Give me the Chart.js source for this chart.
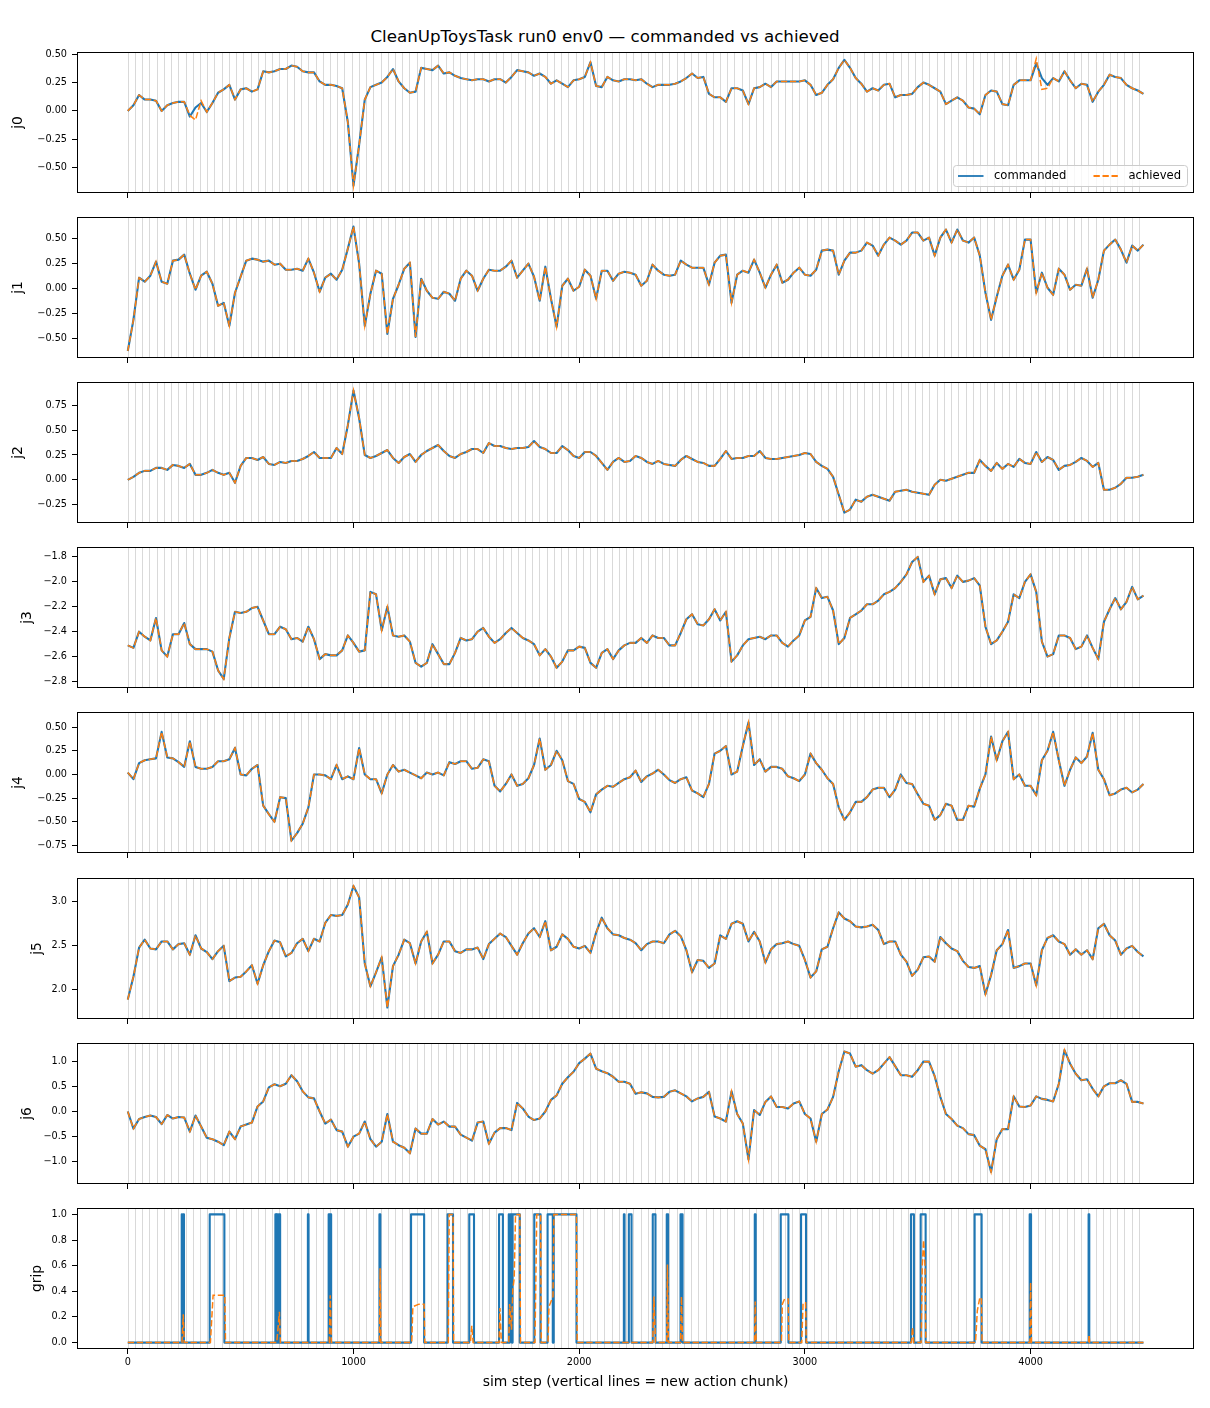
<!DOCTYPE html>
<html><head><meta charset="utf-8">
<script src="https://cdn.jsdelivr.net/npm/chart.js@4.4.0/dist/chart.umd.min.js"></script>
<style>
html,body{margin:0;padding:0;background:#fff;}
#fig{position:relative;width:1210px;height:1408px;background:#fff;font-family:"DejaVu Sans",sans-serif;overflow:hidden;}
#title{position:absolute;left:0;top:26px;width:1210px;text-align:center;font-size:16.7px;line-height:20px;color:#000;}
</style></head>
<body><div id="fig"><div id="title">CleanUpToysTask run0 env0 — commanded vs achieved</div></div>
<script>
// ---------------- data ----------------
const STEPS = [0,25,50,75,100,125,150,175,200,225,
250,275,300,325,350,375,400,425,450,475,
500,525,550,575,600,625,650,675,700,725,
750,775,800,825,850,875,900,925,950,975,
1000,1025,1050,1075,1100,1125,1150,1175,1200,1225,
1250,1275,1300,1325,1350,1375,1400,1425,1450,1475,
1500,1525,1550,1575,1600,1625,1650,1675,1700,1725,
1750,1775,1800,1825,1850,1875,1900,1925,1950,1975,
2000,2025,2050,2075,2100,2125,2150,2175,2200,2225,
2250,2275,2300,2325,2350,2375,2400,2425,2450,2475,
2500,2525,2550,2575,2600,2625,2650,2675,2700,2725,
2750,2775,2800,2825,2850,2875,2900,2925,2950,2975,
3000,3025,3050,3075,3100,3125,3150,3175,3200,3225,
3250,3275,3300,3325,3350,3375,3400,3425,3450,3475,
3500,3525,3550,3575,3600,3625,3650,3675,3700,3725,
3750,3775,3800,3825,3850,3875,3900,3925,3950,3975,
4000,4025,4050,4075,4100,4125,4150,4175,4200,4225,
4250,4275,4300,4325,4350,4375,4400,4425,4450,4475,
4500];

const J0_CMD = [0.00,0.05,0.14,0.10,0.10,0.09,0.00,0.05,0.07,0.08,
0.08,-0.05,0.03,0.07,-0.01,0.07,0.16,0.19,0.23,0.10,
0.19,0.20,0.17,0.19,0.35,0.34,0.35,0.37,0.37,0.40,
0.39,0.35,0.34,0.34,0.26,0.23,0.23,0.22,0.20,-0.10,
-0.66,-0.30,0.10,0.21,0.23,0.25,0.30,0.37,0.26,0.20,
0.16,0.17,0.38,0.37,0.36,0.40,0.33,0.34,0.31,0.29,
0.28,0.27,0.28,0.28,0.26,0.28,0.28,0.25,0.30,0.36,
0.35,0.34,0.31,0.33,0.30,0.24,0.27,0.24,0.21,0.27,
0.28,0.30,0.43,0.22,0.21,0.30,0.27,0.26,0.28,0.28,
0.27,0.28,0.24,0.21,0.23,0.23,0.23,0.24,0.26,0.29,
0.33,0.29,0.30,0.15,0.12,0.12,0.08,0.20,0.20,0.18,
0.06,0.20,0.21,0.24,0.21,0.26,0.26,0.26,0.26,0.26,
0.27,0.23,0.14,0.16,0.23,0.28,0.38,0.45,0.38,0.29,
0.24,0.17,0.20,0.18,0.23,0.24,0.12,0.14,0.14,0.15,
0.21,0.25,0.23,0.20,0.17,0.06,0.09,0.12,0.09,0.03,
0.02,-0.03,0.14,0.18,0.17,0.06,0.05,0.23,0.27,0.27,
0.27,0.42,0.29,0.23,0.29,0.26,0.35,0.27,0.20,0.24,
0.23,0.08,0.17,0.23,0.32,0.30,0.29,0.23,0.20,0.18,
0.15];
const J0_ACH = [0.00,0.05,0.14,0.10,0.10,0.09,0.00,0.05,0.07,0.08,
0.08,-0.04,-0.08,0.09,-0.01,0.07,0.16,0.19,0.23,0.10,
0.19,0.20,0.17,0.19,0.35,0.34,0.35,0.37,0.37,0.40,
0.39,0.35,0.34,0.34,0.26,0.23,0.23,0.22,0.20,-0.10,
-0.66,-0.30,0.10,0.21,0.23,0.25,0.30,0.37,0.26,0.20,
0.16,0.17,0.38,0.37,0.36,0.40,0.33,0.34,0.31,0.29,
0.28,0.27,0.28,0.28,0.26,0.28,0.28,0.25,0.30,0.36,
0.35,0.34,0.31,0.33,0.30,0.24,0.27,0.24,0.21,0.27,
0.28,0.30,0.43,0.22,0.21,0.30,0.27,0.26,0.28,0.28,
0.27,0.28,0.24,0.21,0.23,0.23,0.23,0.24,0.26,0.29,
0.33,0.29,0.30,0.15,0.12,0.12,0.08,0.20,0.20,0.18,
0.06,0.20,0.21,0.24,0.21,0.26,0.26,0.26,0.26,0.26,
0.27,0.23,0.14,0.16,0.23,0.28,0.38,0.45,0.38,0.29,
0.24,0.17,0.20,0.18,0.23,0.24,0.12,0.14,0.14,0.15,
0.21,0.25,0.23,0.20,0.17,0.06,0.09,0.12,0.09,0.03,
0.02,-0.03,0.14,0.18,0.17,0.06,0.05,0.23,0.27,0.27,
0.27,0.46,0.19,0.20,0.29,0.26,0.35,0.27,0.20,0.24,
0.23,0.08,0.17,0.23,0.32,0.30,0.29,0.23,0.20,0.18,
0.15];

const J1_CMD = [-0.62,-0.31,0.11,0.07,0.13,0.27,0.07,0.05,0.28,0.29,
0.34,0.15,-0.01,0.13,0.17,0.05,-0.17,-0.14,-0.37,-0.04,
0.12,0.28,0.30,0.29,0.27,0.28,0.24,0.25,0.19,0.19,
0.20,0.18,0.30,0.16,-0.03,0.11,0.15,0.09,0.19,0.40,
0.62,0.25,-0.37,-0.05,0.18,0.15,-0.45,-0.10,0.04,0.20,
0.26,-0.48,0.10,-0.02,-0.09,-0.10,-0.03,-0.05,-0.12,0.10,
0.18,0.13,-0.02,0.10,0.19,0.18,0.18,0.22,0.28,0.11,
0.18,0.25,0.12,-0.12,0.22,-0.10,-0.38,0.03,0.10,-0.02,
0.02,0.19,0.13,-0.10,0.18,0.18,0.08,0.15,0.17,0.16,
0.14,0.03,0.08,0.24,0.18,0.14,0.13,0.14,0.28,0.24,
0.21,0.21,0.21,0.04,0.26,0.33,0.34,-0.14,0.14,0.18,
0.16,0.29,0.16,0.01,0.14,0.24,0.06,0.09,0.16,0.21,
0.14,0.13,0.19,0.38,0.39,0.38,0.14,0.28,0.36,0.36,
0.38,0.46,0.43,0.33,0.44,0.51,0.48,0.44,0.48,0.56,
0.56,0.48,0.51,0.33,0.51,0.59,0.46,0.59,0.48,0.46,
0.51,0.33,-0.04,-0.31,-0.08,0.13,0.24,0.09,0.19,0.49,
0.49,-0.04,0.16,0.01,-0.06,0.20,0.14,-0.01,0.04,0.03,
0.20,-0.09,0.09,0.38,0.44,0.49,0.39,0.26,0.43,0.38,
0.44];
const J1_ACH = [-0.62,-0.31,0.11,0.07,0.13,0.27,0.07,0.05,0.28,0.29,
0.34,0.15,-0.01,0.13,0.17,0.05,-0.17,-0.14,-0.37,-0.04,
0.12,0.28,0.30,0.29,0.27,0.28,0.24,0.25,0.19,0.19,
0.20,0.18,0.30,0.16,-0.03,0.11,0.15,0.09,0.19,0.40,
0.62,0.25,-0.37,-0.05,0.18,0.15,-0.45,-0.10,0.04,0.20,
0.26,-0.48,0.10,-0.02,-0.09,-0.10,-0.03,-0.05,-0.12,0.10,
0.18,0.13,-0.02,0.10,0.19,0.18,0.18,0.22,0.28,0.11,
0.18,0.25,0.12,-0.12,0.22,-0.10,-0.38,0.03,0.10,-0.02,
0.02,0.19,0.13,-0.10,0.18,0.18,0.08,0.15,0.17,0.16,
0.14,0.03,0.08,0.24,0.18,0.14,0.13,0.14,0.28,0.24,
0.21,0.21,0.21,0.04,0.26,0.33,0.34,-0.14,0.14,0.18,
0.16,0.29,0.16,0.01,0.14,0.24,0.06,0.09,0.16,0.21,
0.14,0.13,0.19,0.38,0.39,0.38,0.14,0.28,0.36,0.36,
0.38,0.46,0.43,0.33,0.44,0.51,0.48,0.44,0.48,0.56,
0.56,0.48,0.51,0.33,0.51,0.59,0.46,0.59,0.48,0.46,
0.51,0.33,-0.04,-0.31,-0.08,0.13,0.24,0.09,0.19,0.49,
0.49,-0.04,0.16,0.01,-0.06,0.20,0.14,-0.01,0.04,0.03,
0.20,-0.09,0.09,0.38,0.44,0.49,0.39,0.26,0.43,0.38,
0.44];

const J2_CMD = [0.00,0.03,0.07,0.09,0.09,0.12,0.12,0.10,0.15,0.14,
0.12,0.16,0.05,0.05,0.07,0.10,0.07,0.05,0.07,-0.03,
0.14,0.22,0.22,0.20,0.23,0.16,0.15,0.18,0.17,0.19,
0.19,0.21,0.24,0.28,0.22,0.22,0.22,0.32,0.26,0.55,
0.90,0.62,0.25,0.22,0.24,0.27,0.30,0.22,0.17,0.23,
0.26,0.18,0.25,0.29,0.32,0.35,0.29,0.24,0.22,0.26,
0.28,0.31,0.31,0.27,0.37,0.34,0.34,0.32,0.31,0.32,
0.32,0.33,0.39,0.33,0.31,0.27,0.27,0.34,0.30,0.24,
0.22,0.28,0.28,0.24,0.17,0.10,0.18,0.22,0.18,0.19,
0.24,0.22,0.18,0.16,0.19,0.16,0.15,0.14,0.20,0.24,
0.21,0.18,0.17,0.14,0.14,0.21,0.29,0.21,0.22,0.22,
0.24,0.24,0.29,0.22,0.21,0.21,0.22,0.23,0.24,0.25,
0.27,0.26,0.18,0.14,0.11,0.03,-0.15,-0.33,-0.30,-0.20,
-0.22,-0.17,-0.15,-0.17,-0.19,-0.21,-0.12,-0.11,-0.10,-0.12,
-0.13,-0.14,-0.15,-0.05,0.00,-0.01,0.01,0.03,0.05,0.07,
0.07,0.20,0.14,0.09,0.17,0.11,0.16,0.13,0.21,0.17,
0.16,0.28,0.18,0.23,0.20,0.10,0.14,0.15,0.18,0.22,
0.19,0.13,0.17,-0.10,-0.10,-0.08,-0.04,0.02,0.02,0.03,
0.05];
const J2_ACH = [0.00,0.03,0.07,0.09,0.09,0.12,0.12,0.10,0.15,0.14,
0.12,0.16,0.05,0.05,0.07,0.10,0.07,0.05,0.07,-0.03,
0.14,0.22,0.22,0.20,0.23,0.16,0.15,0.18,0.17,0.19,
0.19,0.21,0.24,0.28,0.22,0.22,0.22,0.32,0.26,0.55,
0.90,0.62,0.25,0.22,0.24,0.27,0.30,0.22,0.17,0.23,
0.26,0.18,0.25,0.29,0.32,0.35,0.29,0.24,0.22,0.26,
0.28,0.31,0.31,0.27,0.37,0.34,0.34,0.32,0.31,0.32,
0.32,0.33,0.39,0.33,0.31,0.27,0.27,0.34,0.30,0.24,
0.22,0.28,0.28,0.24,0.17,0.10,0.18,0.22,0.18,0.19,
0.24,0.22,0.18,0.16,0.19,0.16,0.15,0.14,0.20,0.24,
0.21,0.18,0.17,0.14,0.14,0.21,0.29,0.21,0.22,0.22,
0.24,0.24,0.29,0.22,0.21,0.21,0.22,0.23,0.24,0.25,
0.27,0.26,0.18,0.14,0.11,0.03,-0.15,-0.33,-0.30,-0.20,
-0.22,-0.17,-0.15,-0.17,-0.19,-0.21,-0.12,-0.11,-0.10,-0.12,
-0.13,-0.14,-0.15,-0.05,0.00,-0.01,0.01,0.03,0.05,0.07,
0.07,0.20,0.14,0.09,0.17,0.11,0.16,0.13,0.21,0.17,
0.16,0.28,0.18,0.23,0.20,0.10,0.14,0.15,0.18,0.22,
0.19,0.13,0.17,-0.10,-0.10,-0.08,-0.04,0.02,0.02,0.03,
0.05];

const J3_CMD = [-2.51,-2.53,-2.40,-2.44,-2.47,-2.29,-2.55,-2.60,-2.42,-2.42,
-2.33,-2.50,-2.54,-2.54,-2.54,-2.56,-2.71,-2.78,-2.45,-2.24,
-2.25,-2.24,-2.21,-2.20,-2.31,-2.42,-2.42,-2.36,-2.38,-2.46,
-2.45,-2.48,-2.36,-2.46,-2.62,-2.58,-2.59,-2.59,-2.55,-2.43,
-2.49,-2.56,-2.55,-2.08,-2.10,-2.39,-2.20,-2.43,-2.44,-2.43,
-2.48,-2.65,-2.68,-2.65,-2.50,-2.58,-2.66,-2.66,-2.57,-2.45,
-2.47,-2.46,-2.40,-2.37,-2.44,-2.49,-2.46,-2.41,-2.37,-2.41,
-2.45,-2.47,-2.50,-2.59,-2.54,-2.60,-2.69,-2.64,-2.55,-2.55,
-2.52,-2.53,-2.65,-2.69,-2.57,-2.54,-2.62,-2.55,-2.51,-2.49,
-2.49,-2.45,-2.49,-2.43,-2.45,-2.45,-2.51,-2.51,-2.41,-2.30,
-2.26,-2.34,-2.35,-2.30,-2.22,-2.31,-2.24,-2.64,-2.59,-2.51,
-2.46,-2.45,-2.44,-2.46,-2.43,-2.43,-2.49,-2.52,-2.47,-2.43,
-2.31,-2.28,-2.05,-2.13,-2.12,-2.23,-2.50,-2.45,-2.29,-2.26,
-2.23,-2.18,-2.18,-2.15,-2.10,-2.08,-2.05,-2.00,-1.94,-1.84,
-1.80,-2.00,-1.95,-2.10,-1.98,-1.97,-2.05,-1.95,-2.00,-1.99,
-1.97,-2.03,-2.36,-2.50,-2.47,-2.40,-2.32,-2.10,-2.13,-2.00,
-1.94,-2.08,-2.48,-2.60,-2.58,-2.43,-2.43,-2.45,-2.54,-2.52,
-2.43,-2.53,-2.62,-2.32,-2.22,-2.13,-2.22,-2.16,-2.04,-2.14,
-2.11];
const J3_ACH = [-2.51,-2.53,-2.40,-2.44,-2.47,-2.29,-2.55,-2.60,-2.42,-2.42,
-2.33,-2.50,-2.54,-2.54,-2.54,-2.56,-2.71,-2.78,-2.45,-2.24,
-2.25,-2.24,-2.21,-2.20,-2.31,-2.42,-2.42,-2.36,-2.38,-2.46,
-2.45,-2.48,-2.36,-2.46,-2.62,-2.58,-2.59,-2.59,-2.55,-2.43,
-2.49,-2.56,-2.55,-2.08,-2.10,-2.39,-2.20,-2.43,-2.44,-2.43,
-2.48,-2.65,-2.68,-2.65,-2.50,-2.58,-2.66,-2.66,-2.57,-2.45,
-2.47,-2.46,-2.40,-2.37,-2.44,-2.49,-2.46,-2.41,-2.37,-2.41,
-2.45,-2.47,-2.50,-2.59,-2.54,-2.60,-2.69,-2.64,-2.55,-2.55,
-2.52,-2.53,-2.65,-2.69,-2.57,-2.54,-2.62,-2.55,-2.51,-2.49,
-2.49,-2.45,-2.49,-2.43,-2.45,-2.45,-2.51,-2.51,-2.41,-2.30,
-2.26,-2.34,-2.35,-2.30,-2.22,-2.31,-2.24,-2.64,-2.59,-2.51,
-2.46,-2.45,-2.44,-2.46,-2.43,-2.43,-2.49,-2.52,-2.47,-2.43,
-2.31,-2.28,-2.05,-2.13,-2.12,-2.23,-2.50,-2.45,-2.29,-2.26,
-2.23,-2.18,-2.18,-2.15,-2.10,-2.08,-2.05,-2.00,-1.94,-1.84,
-1.80,-2.00,-1.95,-2.10,-1.98,-1.97,-2.05,-1.95,-2.00,-1.99,
-1.97,-2.03,-2.36,-2.50,-2.47,-2.40,-2.32,-2.10,-2.13,-2.00,
-1.94,-2.08,-2.48,-2.60,-2.58,-2.43,-2.43,-2.45,-2.54,-2.52,
-2.43,-2.53,-2.62,-2.32,-2.22,-2.13,-2.22,-2.16,-2.04,-2.14,
-2.11];

const J4_CMD = [0.02,-0.05,0.12,0.15,0.16,0.17,0.45,0.18,0.17,0.13,
0.08,0.35,0.08,0.06,0.06,0.08,0.14,0.14,0.16,0.28,
0.00,-0.01,0.06,0.10,-0.33,-0.42,-0.50,-0.24,-0.25,-0.70,
-0.62,-0.52,-0.35,0.00,0.00,-0.01,-0.05,0.10,-0.05,-0.02,
-0.05,0.28,0.00,-0.05,-0.05,-0.20,0.00,0.10,0.03,0.05,
0.02,-0.01,-0.04,0.02,0.00,0.02,-0.01,0.13,0.11,0.14,
0.14,0.06,0.07,0.16,0.14,-0.12,-0.18,-0.10,0.00,-0.12,
-0.10,-0.04,0.10,0.38,0.05,0.10,0.25,0.15,-0.07,-0.10,
-0.26,-0.29,-0.40,-0.21,-0.16,-0.12,-0.13,-0.09,-0.05,-0.03,
0.04,-0.08,-0.02,0.01,0.05,0.00,-0.06,-0.09,-0.05,-0.03,
-0.17,-0.20,-0.24,-0.10,0.22,0.25,0.30,0.00,0.03,0.30,
0.55,0.10,0.16,0.03,0.08,0.08,0.06,-0.02,-0.04,-0.07,
0.00,0.22,0.12,0.05,-0.04,-0.10,-0.35,-0.48,-0.40,-0.29,
-0.29,-0.24,-0.16,-0.14,-0.14,-0.24,-0.16,0.00,-0.09,-0.10,
-0.21,-0.31,-0.33,-0.48,-0.43,-0.31,-0.33,-0.48,-0.48,-0.33,
-0.34,-0.15,0.00,0.40,0.15,0.35,0.45,-0.05,0.00,-0.12,
-0.12,-0.22,0.15,0.25,0.45,0.15,-0.12,0.05,0.18,0.12,
0.19,0.44,0.05,-0.05,-0.22,-0.20,-0.16,-0.14,-0.19,-0.16,
-0.10];
const J4_ACH = [0.02,-0.05,0.12,0.15,0.16,0.17,0.45,0.18,0.17,0.13,
0.08,0.35,0.08,0.06,0.06,0.08,0.14,0.14,0.16,0.28,
0.00,-0.01,0.06,0.10,-0.33,-0.42,-0.50,-0.24,-0.25,-0.70,
-0.62,-0.52,-0.35,0.00,0.00,-0.01,-0.05,0.10,-0.05,-0.02,
-0.05,0.28,0.00,-0.05,-0.05,-0.20,0.00,0.10,0.03,0.05,
0.02,-0.01,-0.04,0.02,0.00,0.02,-0.01,0.13,0.11,0.14,
0.14,0.06,0.07,0.16,0.14,-0.12,-0.18,-0.10,0.00,-0.12,
-0.10,-0.04,0.10,0.38,0.05,0.10,0.25,0.15,-0.07,-0.10,
-0.26,-0.29,-0.40,-0.21,-0.16,-0.12,-0.13,-0.09,-0.05,-0.03,
0.04,-0.08,-0.02,0.01,0.05,0.00,-0.06,-0.09,-0.05,-0.03,
-0.17,-0.20,-0.24,-0.10,0.22,0.25,0.30,0.00,0.03,0.30,
0.55,0.10,0.16,0.03,0.08,0.08,0.06,-0.02,-0.04,-0.07,
0.00,0.22,0.12,0.05,-0.04,-0.10,-0.35,-0.48,-0.40,-0.29,
-0.29,-0.24,-0.16,-0.14,-0.14,-0.24,-0.16,0.00,-0.09,-0.10,
-0.21,-0.31,-0.33,-0.48,-0.43,-0.31,-0.33,-0.48,-0.48,-0.33,
-0.34,-0.15,0.00,0.40,0.15,0.35,0.45,-0.05,0.00,-0.12,
-0.12,-0.22,0.15,0.25,0.45,0.15,-0.12,0.05,0.18,0.12,
0.19,0.44,0.05,-0.05,-0.22,-0.20,-0.16,-0.14,-0.19,-0.16,
-0.10];

const J5_CMD = [1.89,2.15,2.48,2.57,2.47,2.46,2.55,2.55,2.46,2.52,
2.53,2.40,2.62,2.47,2.43,2.35,2.44,2.50,2.10,2.14,
2.15,2.21,2.28,2.07,2.28,2.44,2.56,2.54,2.38,2.42,
2.53,2.58,2.44,2.58,2.55,2.76,2.85,2.84,2.85,2.97,
3.18,3.05,2.30,2.04,2.20,2.37,1.80,2.27,2.40,2.57,
2.53,2.30,2.55,2.66,2.30,2.40,2.55,2.55,2.44,2.42,
2.46,2.46,2.48,2.35,2.52,2.58,2.64,2.60,2.50,2.40,
2.53,2.64,2.70,2.60,2.78,2.45,2.49,2.63,2.58,2.49,
2.47,2.50,2.42,2.65,2.82,2.70,2.63,2.62,2.59,2.57,
2.53,2.45,2.52,2.55,2.55,2.53,2.63,2.67,2.61,2.45,
2.20,2.34,2.33,2.25,2.30,2.62,2.58,2.75,2.78,2.75,
2.55,2.66,2.55,2.31,2.46,2.52,2.53,2.55,2.52,2.50,
2.34,2.14,2.21,2.46,2.49,2.70,2.88,2.81,2.78,2.72,
2.71,2.72,2.74,2.68,2.52,2.55,2.55,2.40,2.32,2.16,
2.23,2.37,2.38,2.32,2.60,2.53,2.47,2.44,2.33,2.26,
2.25,2.27,1.95,2.17,2.45,2.52,2.68,2.25,2.27,2.30,
2.30,2.05,2.45,2.59,2.62,2.55,2.52,2.40,2.46,2.40,
2.45,2.35,2.70,2.75,2.62,2.56,2.40,2.47,2.50,2.43,
2.38];
const J5_ACH = [1.89,2.15,2.48,2.57,2.47,2.46,2.55,2.55,2.46,2.52,
2.53,2.40,2.62,2.47,2.43,2.35,2.44,2.50,2.10,2.14,
2.15,2.21,2.28,2.07,2.28,2.44,2.56,2.54,2.38,2.42,
2.53,2.58,2.44,2.58,2.55,2.76,2.85,2.84,2.85,2.97,
3.18,3.05,2.30,2.04,2.20,2.37,1.80,2.27,2.40,2.57,
2.53,2.30,2.55,2.66,2.30,2.40,2.55,2.55,2.44,2.42,
2.46,2.46,2.48,2.35,2.52,2.58,2.64,2.60,2.50,2.40,
2.53,2.64,2.70,2.60,2.78,2.45,2.49,2.63,2.58,2.49,
2.47,2.50,2.42,2.65,2.82,2.70,2.63,2.62,2.59,2.57,
2.53,2.45,2.52,2.55,2.55,2.53,2.63,2.67,2.61,2.45,
2.20,2.34,2.33,2.25,2.30,2.62,2.58,2.75,2.78,2.75,
2.55,2.66,2.55,2.31,2.46,2.52,2.53,2.55,2.52,2.50,
2.34,2.14,2.21,2.46,2.49,2.70,2.88,2.81,2.78,2.72,
2.71,2.72,2.74,2.68,2.52,2.55,2.55,2.40,2.32,2.16,
2.23,2.37,2.38,2.32,2.60,2.53,2.47,2.44,2.33,2.26,
2.25,2.27,1.95,2.17,2.45,2.52,2.68,2.25,2.27,2.30,
2.30,2.05,2.45,2.59,2.62,2.55,2.52,2.40,2.46,2.40,
2.45,2.35,2.70,2.75,2.62,2.56,2.40,2.47,2.50,2.43,
2.38];

const J6_CMD = [0.00,-0.34,-0.15,-0.11,-0.08,-0.11,-0.25,-0.07,-0.14,-0.11,
-0.12,-0.40,-0.08,-0.30,-0.52,-0.55,-0.60,-0.67,-0.40,-0.55,
-0.30,-0.26,-0.22,0.10,0.20,0.48,0.54,0.50,0.55,0.72,
0.60,0.40,0.28,0.26,0.00,-0.24,-0.16,-0.37,-0.40,-0.70,
-0.50,-0.44,-0.20,-0.55,-0.70,-0.60,-0.05,-0.60,-0.67,-0.72,
-0.83,-0.34,-0.44,-0.44,-0.15,-0.26,-0.20,-0.30,-0.30,-0.46,
-0.52,-0.58,-0.22,-0.20,-0.64,-0.42,-0.33,-0.33,-0.37,0.17,
0.06,-0.10,-0.17,-0.14,0.00,0.23,0.32,0.55,0.68,0.79,
0.96,1.05,1.15,0.85,0.80,0.76,0.69,0.59,0.59,0.55,
0.35,0.38,0.36,0.29,0.28,0.29,0.39,0.42,0.36,0.30,
0.20,0.26,0.29,0.39,-0.10,-0.14,-0.20,0.40,-0.05,-0.24,
-0.95,0.03,-0.07,0.19,0.30,0.09,0.09,0.06,0.16,0.20,
-0.05,-0.14,-0.60,-0.05,0.04,0.29,0.80,1.19,1.15,0.89,
0.92,0.82,0.75,0.82,0.95,1.08,0.90,0.72,0.72,0.69,
0.82,0.99,0.99,0.70,0.29,-0.05,-0.15,-0.28,-0.33,-0.45,
-0.47,-0.68,-0.75,-1.20,-0.55,-0.35,-0.35,0.30,0.10,0.09,
0.12,0.30,0.25,0.23,0.20,0.55,1.22,0.95,0.75,0.62,
0.64,0.45,0.30,0.50,0.56,0.56,0.62,0.55,0.19,0.19,
0.16];
const J6_ACH = [0.00,-0.34,-0.15,-0.11,-0.08,-0.11,-0.25,-0.07,-0.14,-0.11,
-0.12,-0.40,-0.08,-0.30,-0.52,-0.55,-0.60,-0.67,-0.40,-0.55,
-0.30,-0.26,-0.22,0.10,0.20,0.48,0.54,0.50,0.55,0.72,
0.60,0.40,0.28,0.26,0.00,-0.24,-0.16,-0.37,-0.40,-0.70,
-0.50,-0.44,-0.20,-0.55,-0.70,-0.60,-0.05,-0.60,-0.67,-0.72,
-0.83,-0.34,-0.44,-0.44,-0.15,-0.26,-0.20,-0.30,-0.30,-0.46,
-0.52,-0.58,-0.22,-0.20,-0.64,-0.42,-0.33,-0.33,-0.37,0.17,
0.06,-0.10,-0.17,-0.14,0.00,0.23,0.32,0.55,0.68,0.79,
0.96,1.05,1.15,0.85,0.80,0.76,0.69,0.59,0.59,0.55,
0.35,0.38,0.36,0.29,0.28,0.29,0.39,0.42,0.36,0.30,
0.20,0.26,0.29,0.39,-0.10,-0.14,-0.20,0.40,-0.05,-0.24,
-0.95,0.03,-0.07,0.19,0.30,0.09,0.09,0.06,0.16,0.20,
-0.05,-0.14,-0.60,-0.05,0.04,0.29,0.80,1.19,1.15,0.89,
0.92,0.82,0.75,0.82,0.95,1.08,0.90,0.72,0.72,0.69,
0.82,0.99,0.99,0.70,0.29,-0.05,-0.15,-0.28,-0.33,-0.45,
-0.47,-0.68,-0.75,-1.20,-0.55,-0.35,-0.35,0.30,0.10,0.09,
0.12,0.30,0.25,0.23,0.20,0.55,1.22,0.95,0.75,0.62,
0.64,0.45,0.30,0.50,0.56,0.56,0.62,0.55,0.19,0.19,
0.16];

// gripper: commanded pulses (step where it switches on / off)
const GRIP_ON  = [237,244,363,654,661,669,798,890,897,1115,1255,1417,1513,1645,1686,1693,1705,1801,1860,1887,2198,2220,2326,2388,2449,2778,2893,2983,3470,3513,3752,3996,4257];
const GRIP_OFF = [240,249,428,658,664,675,801,894,901,1119,1313,1441,1534,1662,1689,1702,1737,1829,1883,1988,2201,2232,2338,2394,2458,2782,2927,3005,3483,3535,3783,4002,4260];
const GRIP_END = 4500;
// gripper: achieved
const GRIP_ACH_X = [0,240,246,250,366,378,430,433,660,672,676,893,897,902,1115,1118,1121,
1258,1263,1290,1313,1316,1420,1424,1441,1444,1518,1524,1530,1645,1649,1655,
1688,1692,1700,1706,1712,1718,1737,1740,1804,1808,1812,1829,1832,1862,1866,1884,1888,1988,1991,
2326,2331,2338,2388,2391,2395,2449,2453,2458,2777,2780,2784,2896,2900,2910,2926,2929,
2986,2992,3003,3006,3472,3477,3482,3515,3520,3526,3532,3536,3756,3764,3775,3782,3785,
3997,4000,4004,4257,4259,4262,4500];
const GRIP_ACH_Y = [0,0,0.22,0,0,0.37,0.37,0,0,0.24,0,0,0.37,0,0,0.58,0,
0,0.28,0.30,0.30,0,0,1.0,1.0,0,0,0.13,0,0,0.27,0,
0,0.30,0.10,0.42,0.50,1.0,1.0,0,0,0.50,1.0,1.0,0,0,0.28,0.36,1.0,1.0,0,
0,0.36,0,0,0.61,0,0,0.36,0,0,0.32,0,0,0.30,0.34,0.34,0,
0,0.31,0.31,0,0,0.12,0,0,0.60,0.80,0.60,0,0,0.25,0.35,0.35,0,
0,0.47,0,0,0.06,0,0];

// new action chunk start steps
const CHUNK_STARTS = [0,32,64,96,128,160,192,224,256,288,320,352,384,416,448,480,512,544,576,608,640,672,704,736,768,800,832,864,896,928,960,992,
1024,1056,1088,1120,1152,1184,1216,1248,1280,1312,1344,1376,1408,1440,1472,1504,1536,1568,1600,1632,1664,1696,1728,1760,1792,1824,1856,1888,1920,1952,1984,
2016,2048,2080,2112,2144,2176,2208,2240,2272,2304,2336,2368,2400,2432,2464,2496,2528,2560,2592,2624,2656,2688,2720,2752,2784,2816,2848,2880,2912,2944,2976,
3008,3040,3072,3104,3136,3168,3200,3232,3264,3296,3328,3360,3392,3424,3456,3488,3520,3552,3584,3616,3648,3680,3712,3744,3776,3808,3840,3872,3904,3936,3968,
4000,4032,4064,4096,4128,4160,4192,4224,4256,4288,4320,4352,4384,4416,4448,4480];

// tick values
const X_TICKS = [0,1000,2000,3000,4000];
const J0_TICKS = [-0.5,-0.25,0,0.25,0.5];
const J1_TICKS = [-0.5,-0.25,0,0.25,0.5];
const J2_TICKS = [-0.25,0,0.25,0.5,0.75];
const J3_TICKS = [-2.8,-2.6,-2.4,-2.2,-2.0,-1.8];
const J4_TICKS = [-0.75,-0.5,-0.25,0,0.25,0.5];
const J5_TICKS = [2.0,2.5,3.0];
const J6_TICKS = [-1.0,-0.5,0,0.5,1.0];
const GRIP_TICKS = [0,0.2,0.4,0.6,0.8,1.0];

const SERIES_LABELS = ['commanded','achieved'];
const X_LABEL = 'sim step (vertical lines = new action chunk)';

// ---------------- drawing ----------------
const FONT = '"DejaVu Sans", "Noto Sans", sans-serif';
Chart.defaults.font.family = FONT;
Chart.defaults.color = '#000';
const BLUE = '#1f77b4', ORANGE = '#ff7f0e';
const FIG_W = 1210, PAD_TOP = 16, PANEL_H = 141, AXIS_W = 77, RIGHT_PAD = 16;
const PANEL_TOPS = [52,217,382,547,712,878,1043,1208];

function pts(xs, ys){ return xs.map((x,i)=>({x:x, y:ys[i]})); }
function gripCmdPoints(){
  const out = [{x:0,y:0}];
  GRIP_ON.forEach((on,i)=>{ const off = GRIP_OFF[i];
    out.push({x:on,y:0},{x:on,y:1},{x:off,y:1},{x:off,y:0}); });
  out.push({x:GRIP_END,y:0});
  return out;
}
function fmt(v, dec){ return (v < -1e-9 ? '\u2212' : '') + Math.abs(v).toFixed(dec); }

const PANELS = [
  {label:'j0', cmd:pts(STEPS,J0_CMD), ach:pts(STEPS,J0_ACH), ticks:J0_TICKS, dec:2, min:-0.725, max:0.52, lx:18, legend:true},
  {label:'j1', cmd:pts(STEPS,J1_CMD), ach:pts(STEPS,J1_ACH), ticks:J1_TICKS, dec:2, min:-0.69, max:0.715, lx:18},
  {label:'j2', cmd:pts(STEPS,J2_CMD), ach:pts(STEPS,J2_ACH), ticks:J2_TICKS, dec:2, min:-0.435, max:0.985, lx:18},
  {label:'j3', cmd:pts(STEPS,J3_CMD), ach:pts(STEPS,J3_ACH), ticks:J3_TICKS, dec:1, min:-2.852, max:-1.72, lx:27},
  {label:'j4', cmd:pts(STEPS,J4_CMD), ach:pts(STEPS,J4_ACH), ticks:J4_TICKS, dec:2, min:-0.83, max:0.66, lx:18},
  {label:'j5', cmd:pts(STEPS,J5_CMD), ach:pts(STEPS,J5_ACH), ticks:J5_TICKS, dec:1, min:1.67, max:3.27, lx:37},
  {label:'j6', cmd:pts(STEPS,J6_CMD), ach:pts(STEPS,J6_ACH), ticks:J6_TICKS, dec:1, min:-1.44, max:1.36, lx:27},
  {label:'grip', cmd:gripCmdPoints(), ach:pts(GRIP_ACH_X,GRIP_ACH_Y), ticks:GRIP_TICKS, dec:1, min:-0.05, max:1.05, lx:37}
];

const chunkPlugin = {
  id:'chunks',
  beforeDatasetsDraw(chart){
    const {ctx, chartArea:a, scales:{x}} = chart;
    ctx.save();
    ctx.strokeStyle = 'rgba(128,128,128,0.3)';
    ctx.lineWidth = 1;
    ctx.beginPath();
    CHUNK_STARTS.forEach(s=>{
      const px = Math.round(x.getPixelForValue(s)) + 0.5;
      ctx.moveTo(px, a.top); ctx.lineTo(px, a.bottom);
    });
    ctx.stroke();
    ctx.restore();
  }
};
const framePlugin = {
  id:'frame',
  afterDraw(chart){
    const {ctx, chartArea:a} = chart;
    ctx.save();
    ctx.strokeStyle = '#000'; ctx.lineWidth = 1;
    ctx.strokeRect(Math.round(a.left)+0.5, Math.round(a.top)+0.5, Math.round(a.right)-Math.round(a.left)-1, Math.round(a.bottom)-Math.round(a.top)-1);
    ctx.restore();
  }
};
const legendPlugin = {
  id:'insideLegend',
  afterDraw(chart){
    const {ctx, chartArea:a} = chart;
    const w = 234, h = 21;
    const x0 = Math.round(a.right - 7 - w) + 0.5, y0 = Math.round(a.bottom - 7 - h) + 0.5;
    ctx.save();
    ctx.beginPath();
    const r = 3;
    ctx.moveTo(x0+r, y0); ctx.lineTo(x0+w-r, y0); ctx.arcTo(x0+w, y0, x0+w, y0+r, r);
    ctx.lineTo(x0+w, y0+h-r); ctx.arcTo(x0+w, y0+h, x0+w-r, y0+h, r);
    ctx.lineTo(x0+r, y0+h); ctx.arcTo(x0, y0+h, x0, y0+h-r, r);
    ctx.lineTo(x0, y0+r); ctx.arcTo(x0, y0, x0+r, y0, r); ctx.closePath();
    ctx.fillStyle = 'rgba(255,255,255,0.8)'; ctx.fill();
    ctx.strokeStyle = '#cccccc'; ctx.lineWidth = 1; ctx.stroke();
    const cy = y0 + h/2;
    const byLabel = {};
    chart.data.datasets.forEach(d=>{ byLabel[d.label] = d; });
    const items = [{d:byLabel[SERIES_LABELS[0]], lx:4.5, tx:40.5},{d:byLabel[SERIES_LABELS[1]], lx:140, tx:175}];
    items.forEach(it=>{
      ctx.beginPath();
      ctx.strokeStyle = it.d.borderColor; ctx.lineWidth = 1.8;
      ctx.setLineDash(it.d.borderDash || []);
      ctx.moveTo(x0+it.lx, cy); ctx.lineTo(x0+it.lx+25.5, cy); ctx.stroke();
      ctx.setLineDash([]);
      ctx.fillStyle = '#000'; ctx.font = '11.6px ' + FONT;
      ctx.textBaseline = 'middle'; ctx.textAlign = 'left';
      ctx.fillText(it.d.label, x0+it.tx, cy);
    });
    ctx.restore();
  }
};

const fig = document.getElementById('fig');
PANELS.forEach((p, i)=>{
  const bottom = i === PANELS.length - 1;
  const xh = bottom ? 48 : 18;
  const H = PAD_TOP + PANEL_H + xh;
  const c = document.createElement('canvas');
  c.width = FIG_W; c.height = H;
  c.style.cssText = 'position:absolute;left:0;top:' + (PANEL_TOPS[i]-PAD_TOP) + 'px;width:' + FIG_W + 'px;height:' + H + 'px;';
  fig.appendChild(c);
  const plugins = [chunkPlugin, framePlugin];
  if (p.legend) plugins.push(legendPlugin);
  new Chart(c, {
    type:'line',
    data:{ datasets:[
      {label:SERIES_LABELS[0], data:p.cmd, borderColor:BLUE, backgroundColor:BLUE, borderWidth:2.1, pointRadius:0, tension:0, fill:false, order:1, borderJoinStyle:'round'},
      {label:SERIES_LABELS[1], data:p.ach, borderColor:ORANGE, backgroundColor:ORANGE, borderWidth:1.5, borderDash:[6.3,2.7], pointRadius:0, tension:0, fill:false, order:0}
    ]},
    options:{
      responsive:false, animation:false, events:[], parsing:false, normalized:true,
      layout:{padding:{top:PAD_TOP, right:RIGHT_PAD, left:0, bottom:0}},
      plugins:{legend:{display:false}, tooltip:{enabled:false}, title:{display:false}},
      scales:{
        x:{type:'linear', min:-225, max:4724,
          afterBuildTicks:s=>{ s.ticks = X_TICKS.map(v=>({value:v})); },
          afterFit:s=>{ s.height = xh; },
          grid:{drawOnChartArea:false, drawTicks:true, tickLength:5, color:'#000', lineWidth:1},
          border:{display:false},
          ticks:{display:bottom, autoSkip:false, maxRotation:0, padding:3, font:{size:9.7}, color:'#000', callback:v=>String(v)},
          title:{display:bottom, text:X_LABEL, font:{size:13.9}, color:'#000', padding:{top:0,bottom:6}}
        },
        y:{type:'linear', min:p.min, max:p.max,
          afterBuildTicks:s=>{ s.ticks = p.ticks.map(v=>({value:v})); },
          afterFit:s=>{ s.width = AXIS_W; },
          grid:{drawOnChartArea:false, drawTicks:true, tickLength:5, color:'#000', lineWidth:1},
          border:{display:false},
          ticks:{padding:5, font:{size:9.7}, color:'#000', callback:v=>fmt(v, p.dec)},
          title:{display:true, text:p.label, font:{size:13.9}, color:'#000', padding:{top:p.lx-8.34, bottom:0}}
        }
      }
    },
    plugins:plugins
  });
});
</script>
</body></html>
